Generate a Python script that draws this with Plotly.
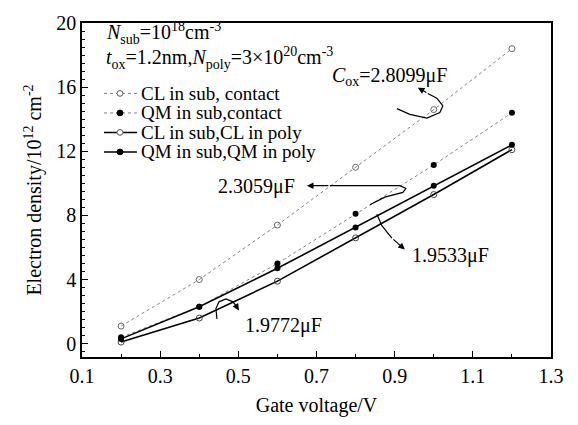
import plotly.graph_objects as go

gate_v = [0.2, 0.4, 0.6, 0.8, 1.0, 1.2]
cl_contact = [1.1, 4.0, 7.4, 11.0, 14.6, 18.4]
qm_contact = [0.4, 2.3, 5.0, 8.1, 11.15, 14.4]
cl_poly = [0.1, 1.6, 3.9, 6.6, 9.3, 12.1]
qm_poly = [0.3, 2.3, 4.7, 7.25, 9.85, 12.4]
names = ["CL in sub, contact", "QM in sub,contact", "CL in sub,CL in poly", "QM in sub,QM in poly"]

FONT = "Liberation Serif"
W, H = 578, 425
L, R, T, B = 82, 27, 12, 62

# reference-pixel -> data helpers for decoration (annotation arrows)
def dx(px):
    return 0.1 + (px - 82) / 391.0

def dy(py):
    return (349 - py) / 16.85

# pixel -> paper helpers (legend keys)
def px_(px):
    return (px - L) / (W - L - R)

def py_(py):
    return 1 - (py - T) / (H - T - B)

styles = [
    (cl_contact, dict(color="#808080", width=1, dash="dot"), dict(symbol="circle-open", color="#666", size=6, line=dict(width=1))),
    (qm_contact, dict(color="#808080", width=1, dash="dot"), dict(symbol="circle", color="black", size=6)),
    (cl_poly, dict(color="black", width=1.6), dict(symbol="circle-open", color="#444", size=6, line=dict(width=1))),
    (qm_poly, dict(color="black", width=1.6), dict(symbol="circle", color="black", size=6)),
]

fig = go.Figure()
for (ys, ln, mk), nm in zip(styles, names):
    fig.add_trace(go.Scatter(x=gate_v, y=ys, mode="lines+markers", name=nm, line=ln, marker=mk, showlegend=False))

shapes = []
def curve(pts):
    d = "M %f,%f " % (dx(pts[0][0]), dy(pts[0][1]))
    for p in pts[1:]:
        d += "L %f,%f " % (dx(p[0]), dy(p[1]))
    shapes.append(dict(type="path", path=d, xref="x", yref="y", line=dict(color="black", width=1.2)))

curve([(397, 102), (410, 108), (427, 112), (440, 106), (443, 99), (437, 91), (428, 86)])
curve([(370, 203), (385, 195), (403, 190), (406, 186), (400, 183), (330, 183)])
curve([(377, 213), (382, 225), (392, 238)])
curve([(217, 323), (216, 312), (219, 305), (226, 302), (233, 305), (236, 309)])

annotations = [
    dict(x=dx(390), y=dy(68), text="<i>C</i><sub>ox</sub>=2.8099μF", showarrow=False),
    dict(x=dx(257), y=dy(184), text="2.3059μF", showarrow=False),
    dict(x=dx(451), y=dy(256), text="1.9533μF", showarrow=False),
    dict(x=dx(284), y=dy(330), text="1.9772μF", showarrow=False),
    dict(x=dx(104), y=dy(22), text="<i>N</i><sub>sub</sub>=10<sup>18</sup>cm<sup>-3</sup>", showarrow=False, xanchor="left"),
    dict(x=dx(104), y=dy(49), text="<i>t</i><sub>ox</sub>=1.2nm,<i>N</i><sub>poly</sub>=3×10<sup>20</sup>cm<sup>-3</sup>", showarrow=False, xanchor="left"),
]
# arrowheads
for (hx, hy, tx, ty) in [(418, 80, 428, 86), (307, 183, 330, 183), (405, 250, 392, 238), (239, 314, 236, 309)]:
    annotations.append(dict(x=dx(hx), y=dy(hy), ax=dx(tx), ay=dy(ty), axref="x", ayref="y",
                            showarrow=True, arrowhead=2, arrowsize=1.1, arrowwidth=1.2, arrowcolor="black", text=""))
for a in annotations:
    a.setdefault("xref", "x")
    a.setdefault("yref", "y")
    a.setdefault("font", dict(family=FONT, size=20, color="black"))

# manual legend (keys + labels)
for i, ((ys, ln, mk), nm) in enumerate(zip(styles, names)):
    yy = 86 + i * 20.5
    shapes.append(dict(type="line", xref="paper", yref="paper", x0=px_(104), x1=px_(137), y0=py_(yy), y1=py_(yy),
                       line=dict(color=ln["color"], width=ln["width"], dash=ln.get("dash", "solid"))))
    filled = mk["symbol"] == "circle"
    shapes.append(dict(type="circle", xref="paper", yref="paper", x0=px_(117), x1=px_(123), y0=py_(yy + 3), y1=py_(yy - 3),
                       line=dict(color="black" if filled else "#555", width=1),
                       fillcolor="black" if filled else "white"))
    annotations.append(dict(xref="paper", yref="paper", x=px_(139), y=py_(yy), text=nm, showarrow=False,
                            xanchor="left", yanchor="middle", font=dict(family=FONT, size=19, color="black")))

fig.update_layout(
    width=W, height=H,
    margin=dict(l=L, r=R, t=T, b=B),
    plot_bgcolor="white", paper_bgcolor="white",
    font=dict(family=FONT, color="black", size=20),
    shapes=shapes, annotations=annotations,
    showlegend=False,
)
fig.update_xaxes(range=[0.1, 1.3], tickvals=[0.1, 0.3, 0.5, 0.7, 0.9, 1.1, 1.3],
                 ticktext=["0.1", "0.3", "0.5", "0.7", "0.9", "1.1", "1.3"],
                 showline=True, linecolor="black", linewidth=1.5, mirror=True,
                 ticks="inside", ticklen=6, tickcolor="black", showgrid=False, zeroline=False,
                 minor=dict(tickvals=[0.2, 0.4, 0.6, 0.8, 1.0, 1.2], ticks="inside", ticklen=3, tickcolor="black"),
                 tickfont=dict(size=20), title=dict(text="Gate voltage/V", font=dict(size=20), standoff=12))
fig.update_yaxes(range=[-0.83, 20], tickvals=[0, 4, 8, 12, 16, 20],
                 showline=True, linecolor="black", linewidth=1.5, mirror=True,
                 ticks="inside", ticklen=6, tickcolor="black", showgrid=False, zeroline=False,
                 minor=dict(dtick=0.5, ticks="inside", ticklen=3, tickcolor="black"),
                 tickfont=dict(size=20),
                 title=dict(text="Electron density/10<sup>12</sup> cm<sup>-2</sup>", font=dict(size=20), standoff=9))
fig.write_html("out.html", config={"displayModeBar": False},
               post_script="document.body.style.margin='0px';")
